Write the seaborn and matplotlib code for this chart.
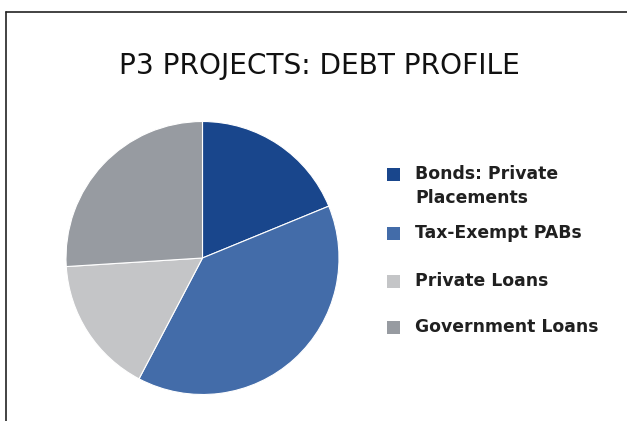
import numpy as np
import matplotlib
matplotlib.use("Agg")
import matplotlib.pyplot as plt
import seaborn as sns
from matplotlib.lines import Line2D
from matplotlib.patches import Rectangle

# data (percent shares)
categories = ["Bonds: Private\nPlacements", "Tax-Exempt PABs", "Private Loans", "Government Loans"]
shares = [18.8, 38.9, 16.3, 26.0]
colors = ["#19468c", "#436ca9", "#c4c5c7", "#979ba1"]

sns.set_theme(style="white")
plt.rcParams['font.family'] = ['DejaVu Sans']

W, H = 627, 421
fig = plt.figure(figsize=(W / 100, H / 100), dpi=100)

# pie centred at (202.5, 258) px, radius ~136.5 px
cx, cy, r = 202.5, 258, 136.5
ax = fig.add_axes([(cx - r) / W, (H - cy - r) / H, 2 * r / W, 2 * r / H])
ax.pie(shares, colors=colors, startangle=90, counterclock=False,
       wedgeprops=dict(edgecolor="white", linewidth=0.8))
ax.set_xlim(-1, 1)
ax.set_ylim(-1, 1)
ax.set_aspect("equal")

# title
fig.text(319 / W, 1 - 66 / H, "P3 PROJECTS: DEBT PROFILE", ha="center", va="center",
         fontsize=20.2, color="#111111")

# legend drawn by hand so the marker sits on the first line of text
rows_y = [174, 233, 281, 327]
for lab, col, y in zip(categories, colors, rows_y):
    fig.add_artist(Rectangle((387 / W, 1 - (y + 6.5) / H), 13 / W, 13 / H,
                             transform=fig.transFigure, color=col, lw=0))
    fig.text(415 / W, 1 - (y - 9) / H, lab, ha="left", va="top", fontsize=12.4,
             fontweight="bold", color="#202020", linespacing=1.45)

# border lines (top and left only, as in the crop)
fig.add_artist(Line2D([5.5 / W, 5.5 / W], [0, 1 - 11.5 / H], transform=fig.transFigure,
                      color="#222222", lw=1.2))
fig.add_artist(Line2D([5.5 / W, 1], [1 - 11.5 / H, 1 - 11.5 / H], transform=fig.transFigure,
                      color="#222222", lw=1.2))

fig.savefig("out.png", dpi=100)
